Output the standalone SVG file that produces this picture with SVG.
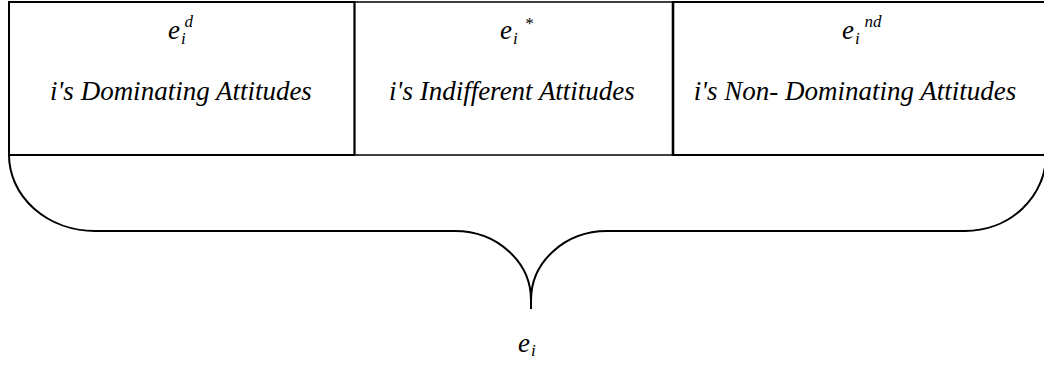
<svg xmlns="http://www.w3.org/2000/svg" width="1044" height="366" viewBox="0 0 1044 366">
<style>
.ln{fill:none;stroke:#000;stroke-width:2}
.t{font-family:"Liberation Serif","Times New Roman",serif;font-style:italic;fill:#000}
.lbl{font-size:27px}
.big{font-size:27px}
.sm{font-size:17px}
</style>
<rect width="1044" height="366" fill="#fff"/>
<g id="cell-dominating">
<rect class="ln" x="9" y="2" width="345.5" height="153"/>
<text class="t big" x="168" y="38.5">e</text>
<text class="t sm" x="181" y="43.5">i</text>
<text class="t sm" x="184.5" y="27">d</text>
<text class="t lbl" x="181" y="100" text-anchor="middle">i's Dominating Attitudes</text>
</g>
<g id="cell-indifferent">
<rect class="ln" x="354.5" y="2" width="318.5" height="153" style="stroke-width:1.5"/>
<text class="t big" x="500" y="38.5">e</text>
<text class="t sm" x="513" y="43.5">i</text>
<text class="t sm" x="524.5" y="29">*</text>
<text class="t lbl" x="512" y="100" text-anchor="middle">i's Indifferent Attitudes</text>
</g>
<g id="cell-nondominating">
<rect class="ln" x="673" y="2" width="380" height="153"/>
<line class="ln" x1="673" y1="2" x2="673" y2="155" style="stroke-width:2.6"/>
<text class="t big" x="842" y="38.5">e</text>
<text class="t sm" x="855" y="43.5">i</text>
<text class="t sm" x="864.5" y="27">nd</text>
<text class="t lbl" x="855" y="100" text-anchor="middle">i's Non- Dominating Attitudes</text>
</g>
<g id="connectors">
<path class="ln" d="M9,155 A86,76 0 0 0 95,231 L455,231 A76,69 0 0 1 531,300 L531,309 M531,300 A76,69 0 0 1 607,231 L965,231 A81,76 0 0 0 1046,155"/>
</g>
<g id="total">
<text class="t big" x="518" y="352">e</text>
<text class="t sm" x="531" y="356">i</text>
</g>
</svg>
